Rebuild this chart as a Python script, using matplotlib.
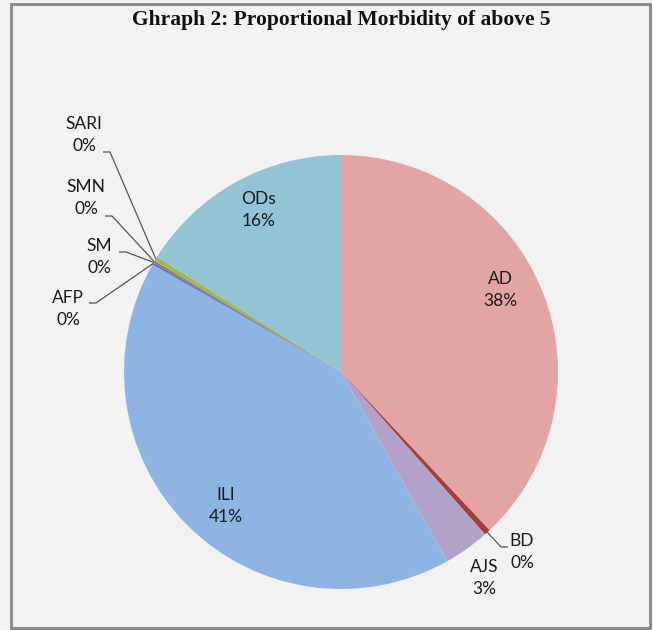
import matplotlib
matplotlib.use("Agg")
import matplotlib.pyplot as plt
import numpy as np

categories = ["AD", "BD", "AJS", "ILI", "AFP", "SM", "SMN", "SARI", "ODs"]
values = [38.0, 0.45, 3.4, 41.4, 0.15, 0.05, 0.1, 0.35, 16.1]
pct_labels = ["38%", "0%", "3%", "41%", "0%", "0%", "0%", "0%", "16%"]
colors = ["#E2A5A4", "#A23F3B", "#B3A2C7", "#8EB4E3", "#4A7EBB",
          "#8064A2", "#C0504D", "#9BBB59", "#93C3D4"]

W, H = 653, 630
fig = plt.figure(figsize=(W / 100, H / 100), dpi=100)
fig.patch.set_facecolor("#F2F2F2")

# border
border = plt.Rectangle((11 / W, 1 - 628 / H), (650 - 11) / W, (628 - 4) / H,
                       transform=fig.transFigure, fill=False,
                       edgecolor="#878787", linewidth=2)
fig.add_artist(border)

cx, cy, R = 341, 372, 217
ax = fig.add_axes([(cx - R) / W, 1 - (cy + R) / H, 2 * R / W, 2 * R / H])
ax.set_facecolor("none")
wedges, _ = ax.pie(values, colors=colors, startangle=90, counterclock=False,
                   radius=1.0, wedgeprops=dict(linewidth=0))
ax.set_xlim(-1, 1)
ax.set_ylim(-1, 1)
ax.set_aspect("equal")
ax.axis("off")

def d(px, py):
    return ((px - cx) / R, (cy - py) / R)

font = ["Lato", "DejaVu Sans"]
fs = 12.5

# inside labels
inside = {"AD": (500, 290), "ILI": (226, 506), "ODs": (259, 210)}
# outside labels with (text center, leader start)
outside = {
    "AJS": ((484, 578), None),
    "BD": ((522, 552), (508, 547)),
    "SARI": ((84, 135), (103, 152)),
    "SMN": ((86, 198), (105, 216)),
    "SM": ((99, 257), (119, 252)),
    "AFP": ((68, 309), (89, 303)),
}

for i, (cat, w) in enumerate(zip(categories, wedges)):
    txt = f"{cat}\n{pct_labels[i]}"
    if cat in inside:
        x, y = d(*inside[cat])
        ax.text(x, y, txt, ha="center", va="center", fontsize=fs,
                family=font, color="#1a1a1a", linespacing=1.5, clip_on=False)
    else:
        (tx, ty), lead = outside[cat]
        x, y = d(tx, ty)
        ax.text(x, y, txt, ha="center", va="center", fontsize=fs,
                family=font, color="#1a1a1a", linespacing=1.5, clip_on=False)
        if lead is not None:
            mid = np.deg2rad((w.theta1 + w.theta2) / 2)
            ex, ey = np.cos(mid) * 1.0, np.sin(mid) * 1.0
            sx, sy = d(*lead)
            hx = sx + (7 / R if sx < 0 else -7 / R)
            ax.plot([sx, hx, ex], [sy, sy, ey], color="#555555", lw=0.9,
                    solid_capstyle="butt", clip_on=False)

fig.text(341 / W, 1 - 20 / H, "Ghraph 2: Proportional Morbidity of above 5",
         ha="center", va="center", fontsize=15.5, fontweight="bold",
         family=["Liberation Serif", "DejaVu Serif"], color="#111111")

fig.savefig("out.png", dpi=100, facecolor=fig.get_facecolor())
